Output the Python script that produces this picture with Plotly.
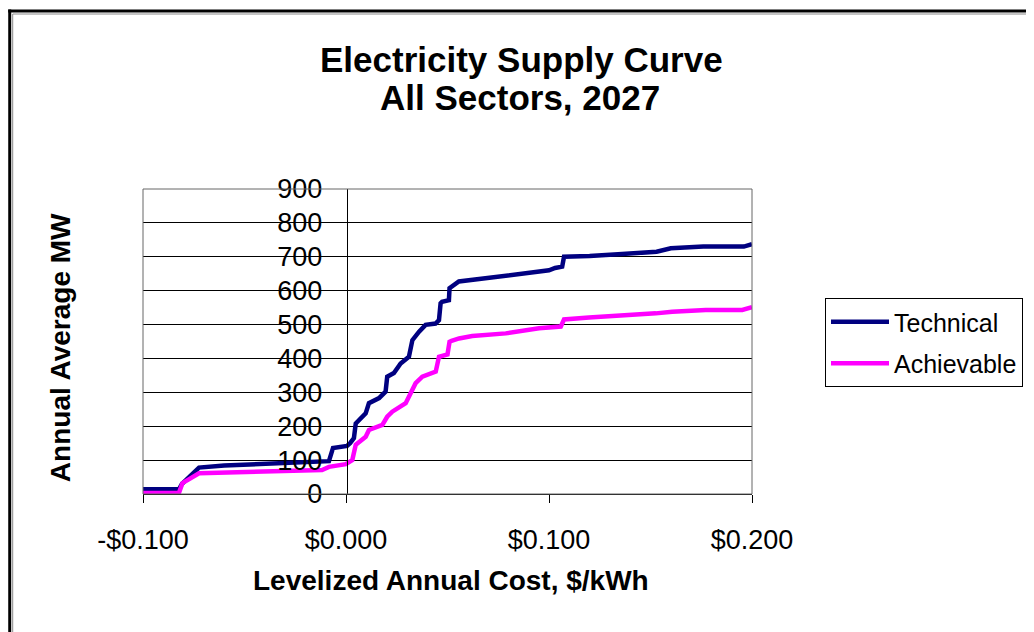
import plotly.graph_objects as go

# ---- data ----
tech_cost = [-0.100, -0.0823, -0.0808, -0.0783, -0.0724, -0.0600, -0.0400, -0.0118, -0.0084, -0.0064,
             0.0005, 0.0020, 0.0039, 0.0048, 0.0097, 0.0113, 0.0163, 0.0195, 0.0203, 0.0236,
             0.0269, 0.0310, 0.0327, 0.0360, 0.0392, 0.0441, 0.0458, 0.0466, 0.0473, 0.0507,
             0.0510, 0.0556, 0.0623, 0.0700, 0.0860, 0.1000, 0.1030, 0.1065, 0.1074, 0.1200,
             0.1360, 0.1530, 0.1600, 0.1760, 0.1960, 0.2000]
tech_mw = [14, 14, 30, 45, 78, 84, 88, 95, 97, 136,
           142, 150, 165, 208, 238, 268, 283, 302, 346, 357,
           385, 405, 454, 479, 499, 503, 513, 563, 567, 572,
           607, 627, 632, 640, 650, 660, 667, 671, 700, 702,
           708, 715, 725, 730, 730, 737]

ach_cost = [-0.100, -0.0823, -0.0806, -0.0724, -0.0118, -0.0084, -0.0001, 0.0031, 0.0048, 0.0097,
            0.0113, 0.0179, 0.0203, 0.0228, 0.0294, 0.0319, 0.0343, 0.0376, 0.0442, 0.0458,
            0.0500, 0.0510, 0.0520, 0.0557, 0.0622, 0.0787, 0.0951, 0.1058, 0.1074, 0.1197,
            0.1443, 0.1526, 0.1607, 0.1772, 0.1952, 0.2000]
ach_mw = [3, 3, 32, 61, 71, 80, 88, 100, 145, 169,
          189, 204, 228, 243, 268, 297, 327, 346, 361, 405,
          412, 449, 452, 459, 466, 474, 489, 494, 515, 521,
          528, 533, 538, 543, 543, 551]

series_names = ["Technical", "Achievable"]
x_tick_vals = [-0.1, 0.0, 0.1, 0.2]
x_tick_text = ["-$0.100", "$0.000", "$0.100", "$0.200"]
y_tick_vals = [0, 100, 200, 300, 400, 500, 600, 700, 800, 900]

title_line1 = "Electricity Supply Curve"
title_line2 = "All Sectors, 2027"
x_title = "Levelized Annual Cost, $/kWh"
y_title = "Annual Average MW"

FONT = "Liberation Sans, Arial, sans-serif"

fig = go.Figure()
fig.add_trace(go.Scatter(x=tech_cost, y=tech_mw, mode="lines", name=series_names[0],
                         legendgroup="t", line=dict(color="#000080", width=4.5)))
fig.add_trace(go.Scatter(x=ach_cost, y=ach_mw, mode="lines", name=series_names[1],
                         legendgroup="a", line=dict(color="#FF00FF", width=4.5)))

# page body has an 8px margin: the figure starts at screen (8, 8)
OFF = 8
SW, SH = 1034, 632            # screen size
L, R, T, B = 143, 753, 189, 494   # plot area in screen px


def px(x):
    return (x - L) / (R - L)


def py(y):
    return (B - y) / (B - T)


fig.update_layout(
    width=SW - OFF, height=SH - OFF,
    margin=dict(l=L - OFF, r=SW - R, t=T - OFF, b=SH - B, pad=0),
    paper_bgcolor="white", plot_bgcolor="white",
    font=dict(family=FONT, color="black"),
    showlegend=True,
    legend=dict(x=px(825), y=py(298), xanchor="left", yanchor="top",
                bordercolor="black", borderwidth=1, bgcolor="white",
                font=dict(size=25, family=FONT), itemwidth=58, tracegroupgap=6),
    xaxis=dict(range=[-0.1, 0.2], tickvals=x_tick_vals, ticktext=x_tick_text,
               showgrid=False, zeroline=False, showline=True, linecolor="black", linewidth=1,
               ticks="outside", ticklen=8, tickcolor="black",
               tickfont=dict(size=27, family=FONT), ticklabelstandoff=14),
    yaxis=dict(range=[0, 900], tickvals=y_tick_vals, anchor="free", position=px(347),
               showgrid=True, gridcolor="black", gridwidth=1, zeroline=False,
               showline=True, linecolor="black", linewidth=1, ticks="",
               tickfont=dict(size=27, family=FONT), ticklabelstandoff=19),
    annotations=[
        dict(text="<b>" + title_line1 + "</b>", xref="paper", yref="paper", x=px(522), y=py(60),
             xanchor="center", yanchor="middle", showarrow=False,
             font=dict(size=35, family=FONT, color="black")),
        dict(text="<b>" + title_line2 + "</b>", xref="paper", yref="paper", x=px(521), y=py(98),
             xanchor="center", yanchor="middle", showarrow=False,
             font=dict(size=35, family=FONT, color="black")),
        dict(text="<b>" + x_title + "</b>", xref="paper", yref="paper", x=px(452), y=py(580),
             xanchor="center", yanchor="middle", showarrow=False,
             font=dict(size=28, family=FONT, color="black")),
        dict(text="<b>" + y_title + "</b>", xref="paper", yref="paper", x=px(60), y=py(348),
             xanchor="center", yanchor="middle", showarrow=False, textangle=-90,
             font=dict(size=28, family=FONT, color="black")),
    ],
    shapes=[
        # plot area border
        dict(type="rect", xref="paper", yref="paper", x0=0, y0=0, x1=1, y1=1,
             line=dict(color="#666666", width=1), layer="above"),
        # chart area frame
        dict(type="line", xref="paper", yref="paper", x0=px(8), y0=py(11), x1=px(1040), y1=py(11),
             line=dict(color="black", width=3)),
        dict(type="line", xref="paper", yref="paper", x0=px(9.5), y0=py(9.5), x1=px(9.5), y1=py(640),
             line=dict(color="black", width=3)),
        dict(type="line", xref="paper", yref="paper", x0=px(12.5), y0=py(14), x1=px(1040), y1=py(14),
             line=dict(color="#888888", width=1)),
        dict(type="line", xref="paper", yref="paper", x0=px(12.5), y0=py(14), x1=px(12.5), y1=py(640),
             line=dict(color="#888888", width=1)),
    ],
)

fig.write_html("out.html")
